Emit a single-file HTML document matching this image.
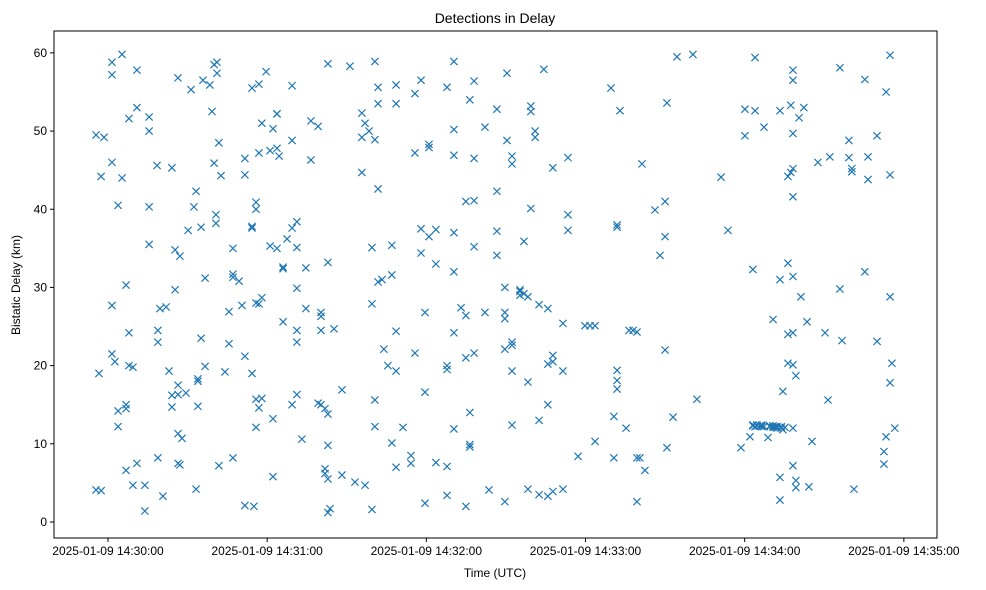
<!DOCTYPE html>
<html><head><meta charset="utf-8"><style>
body{margin:0;background:#fff;}
svg{display:block;font-family:"Liberation Sans","DejaVu Sans",sans-serif;}
</style></head><body>
<svg id="chart" width="986" height="590" xmlns="http://www.w3.org/2000/svg">
<text x="495" y="23" text-anchor="middle" font-size="14">Detections in Delay</text>
<rect x="54" y="31" width="883" height="507" fill="none" stroke="#000" stroke-width="1"/>
<g id="yticks"></g>
<g id="xticks"></g>
<g id="marks"></g>
<text x="495" y="577" text-anchor="middle" font-size="12">Time (UTC)</text>
<text transform="translate(20,285) rotate(-90)" text-anchor="middle" font-size="12">Bistatic Delay (km)</text>
</svg>
<script>
// seconds after 2025-01-09 14:30:00 UTC, with delays (km) at that time
const groupTimes = [-4.5,-3.4,-2.6,-1.5,1.5,2.6,3.8,5.3,6.8,7.9,9.4,10.9,13.9,15.5,18.5,18.8,19.6,20.7,21.9,23.0,24.1,25.3,26.4,27.1,27.9,29.4,30.2,31.3,32.4,33.2,33.9,35.1,35.8,36.6,38.4,39.2,40.0,40.7,41.1,41.8,42.6,44.1,45.6,47.1,49.4,50.5,51.6,54.3,55.0,55.8,56.9,58.0,59.6,61.1,62.2,63.7,64.5,66.0,67.5,69.4,71.2,73.1,74.6,76.5,79.2,80.3,81.8,82.9,83.7,85.2,88.2,91.2,93.1,95.7,96.9,98.4,99.5,100.6,101.8,103.3,104.0,105.5,107.0,108.6,111.2,114.2,115.7,118.0,119.5,121.0,123.6,127.8,130.4,133.1,134.9,136.4,138.0,142.1,143.6,146.6,149.6,150.4,152.3,155.3,156.8,158.3,159.4,161.0,162.5,164.3,165.8,167.7,171.5,173.4,177.2,179.8,181.7,183.6,189.6,190.7,191.9,193.0,195.3,196.4,197.9,199.4,200.5,201.3,202.4,206.2,208.1,210.0,210.7,213.0,214.5,220.5,222.0,231.1,233.7,238.6,240.1,242.0,243.1,243.9,245.8,247.3,248.8,250.7,252.2,253.3,254.4,256.3,257.4,258.2,259.3,260.5,261.2,262.3,263.5,264.2,265.4,267.6,270.3,271.4,272.1,275.9,276.7,279.3,280.4,281.2,285.3,286.5,289.9,292.5,293.3,294.8,295.5,296.6,244.6,246.5,249.5,251.5,253.8,255.2];
const groupDelays = [[49.5,4.1],[19],[4.0,44.2],[49.2],[58.8,57.2,46,21.5,27.7],[20.5],[14.2,12.2,40.5],[59.8,44],[30.3,14.5,6.6,15.0],[51.6,24.2,20],[4.7,19.8],[53,7.5,57.8],[1.4,4.7],[50,35.5,40.3,51.8],[45.6],[24.5,23,8.2],[27.3],[3.3],[27.5],[19.3],[14.7,16.2,45.3],[34.8,29.7],[56.8,11.3,7.5,17.5,16.3],[7.3,34],[10.7],[16.5],[37.3],[55.3],[40.3],[42.3,4.2],[18.3,18.0,14.8],[23.5,37.7],[56.5],[31.2,19.9],[55.9],[52.5],[58.5,45.9],[38.2,39.3],[58.8,57.4],[48.5,7.2],[44.3],[19.2],[26.9,22.8],[31.7,31.3,8.2,35],[30.8],[27.7],[46.5,21.2,2.1,44.4],[55.5,37.8,37.6,19],[2.0],[40.9,40,28,15.7,12.1],[56.0,47.2,27.9,14.6],[51,28.7,15.8],[57.6],[47.5,35.3],[50.3,13.2,5.8],[52.2,52.2,47.8,35],[46.8],[32.6,32.4,25.6],[36.2],[55.8,48.8,37.6,15.0],[23,29.9,24.5,35.1,38.4,16.3],[10.6],[32.5,27.3],[51.3,46.3],[50.6,15.2],[26.8,26.3,24.5,15],[6.2,6.8,14.5],[13.8,9.8,58.6,33.2,1.2,5.5],[1.7],[24.7],[6.0,16.9],[58.3],[5.1],[52.3,49.2,44.7],[51,4.7],[50],[35.1,27.9,1.6],[48.9,58.9,15.6,12.2],[53.5,55.6,42.6,30.7],[31],[22.1],[20],[31.6,35.4,10.1],[55.9,53.5,24.4,19.3,7],[12.1],[8.5,7.5],[54.8,47.2,21.6],[56.5,37.5,34.4],[16.6,26.8,2.4],[48.3,47.9,36.5],[37.4,33,7.6],[55.6,20,19.5,7.1,3.4],[58.9,50.2,46.9,37,32,24.2,11.9],[27.4],[41,26.4,21,2],[54,9.9,9.6,14],[56.4,35.2,46.5,41.1,21.6],[50.5,26.8],[4.1],[42.3,52.8,34.1,37.2],[30,26.8,26,22.1,2.6],[57.4,48.8],[19.3,12.4,23,22.6,46.8,45.8],[29.7,29.5,29],[35.9,29.2],[4.2,17.9,28.8],[40.1,53.2,52.5],[50,49.2],[27.8,3.5,13],[57.9],[20.2,15,3.3,27.3],[45.3,21.3,20.5,3.9],[19.3,25.4,4.2],[46.6,39.3,37.3],[8.4],[25.1],[25.1],[25.1,10.3],[55.5],[8.2,13.5],[37.7,38,19.4,17,18.1],[52.6],[12],[24.5],[24.5],[24.3,2.6,8.2],[8.2],[45.8],[6.6],[39.9],[34.1],[22,36.5,41],[53.6,9.5],[13.4],[59.5],[59.8],[15.7],[44.1],[37.3],[9.5],[52.8,49.4],[10.9],[32.3,12.3,12.4],[59.4,52.6,12.2],[12.3],[50.5,12.2],[10.8],[25.9,12.1,12.3],[12.2,12.0],[2.8,31,5.7,52.6],[11.8,16.7],[44.2,24,20.3,33.1],[53.3,44.7],[57.8,56.5,49.7,45.2,41.6,31.4,12,7.2,20.1,24.2],[18.7,5.3,4.4],[51.7],[28.8],[53],[25.6],[4.5],[10.3],[46],[24.2],[15.6],[46.7],[58.1,29.8],[23.2],[48.8,46.6],[45.2,44.8],[4.2],[56.6,32],[43.8,46.7],[49.4,23.1],[9.0,7.4],[55,10.9],[59.7,44.4,28.8,17.8],[20.3],[12],[12.4,12.3],[12.4,12.2],[12.3,12.2],[12.2,12.1],[12.2,12.0],[12.1]];
const xTickSecs = [0,60,120,180,240,300];
const xTickLabels = ["2025-01-09 14:30:00","2025-01-09 14:31:00","2025-01-09 14:32:00","2025-01-09 14:33:00","2025-01-09 14:34:00","2025-01-09 14:35:00"];
const yTickVals = [0,10,20,30,40,50,60];

const NS = "http://www.w3.org/2000/svg";
const L=54,R=937,T=31,B=538;
const xMin=-20.35,xMax=312.5,yMin=-2.05,yMax=62.8;
function xs(v){return L+(v-xMin)/(xMax-xMin)*(R-L);}
function ys(v){return B-(v-yMin)/(yMax-yMin)*(B-T);}
function mk(tag,attrs,parent){const e=document.createElementNS(NS,tag);for(const k in attrs)e.setAttribute(k,attrs[k]);parent.appendChild(e);return e;}

const yg=document.getElementById('yticks');
yTickVals.forEach(v=>{
  const y=ys(v);
  const t=mk('line',{x1:L-4,x2:L,y1:y,y2:y,stroke:'#000'},yg);
  
  
  const lb=mk('text',{x:L-7,y:y+4,'text-anchor':'end','font-size':'12'},yg);
  
  
  lb.textContent=v;
});
const xg=document.getElementById('xticks');
xTickSecs.forEach((v,i)=>{
  const x=xs(v);
  const t=mk('line',{x1:x,x2:x,y1:B,y2:B+4,stroke:'#000'},xg);
  
  
  const lb=mk('text',{x:x,y:B+17,'text-anchor':'middle','font-size':'12'},xg);
  
  
  lb.textContent=xTickLabels[i];
});
const mg=document.getElementById('marks');
const s=3.6;
groupTimes.forEach((t,i)=>{
  (groupDelays[i]||[]).forEach(d=>{
    const x=xs(t),y=ys(d);
    const p=mk('path',{d:`M${x-s},${y-s}L${x+s},${y+s}M${x-s},${y+s}L${x+s},${y-s}`,stroke:'#1f77b4','stroke-width':'1.2',fill:'none'},mg);
    
    
  });
});
</script>
</body></html>
